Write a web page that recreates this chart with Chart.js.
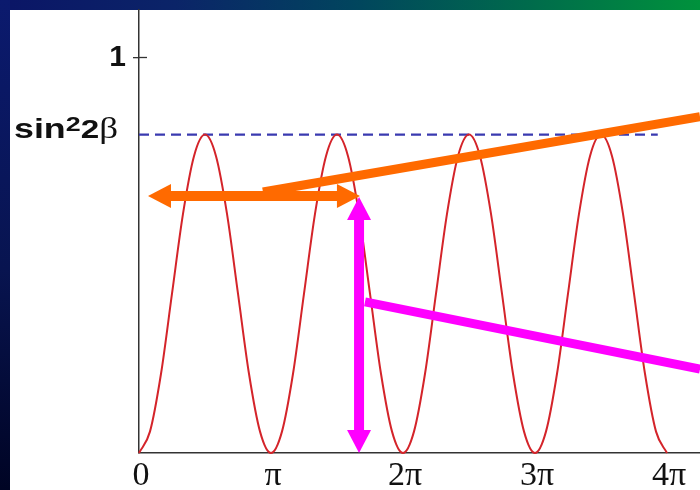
<!DOCTYPE html>
<html><head><meta charset="utf-8">
<script src="https://cdn.jsdelivr.net/npm/chart.js@4.4.1/dist/chart.umd.min.js"></script>
<style>
html,body{margin:0;padding:0;background:#fff;}
#wrap{position:relative;width:700px;height:490px;overflow:hidden;background:#fff;}
#topband{position:absolute;left:0;top:0;width:700px;height:10px;background:linear-gradient(to right,#0b1566 0%,#0b2468 25%,#01445e 50%,#006a4c 75%,#00923c 100%);}
#leftband{position:absolute;left:0;top:0;width:10px;height:490px;background:linear-gradient(to bottom,#0b1a6e 0%,#081450 55%,#000424 100%);}
canvas{position:absolute;left:0;top:0;}
</style></head>
<body><div id="wrap"><div id="topband"></div><div id="leftband"></div><canvas id="c" width="700" height="490"></canvas></div>
<script>
// phase in units of pi
const curveX = [0, 0.083, 0.167, 0.25, 0.333, 0.417, 0.5, 0.583, 0.667, 0.75, 0.833, 0.917,
  1, 1.083, 1.167, 1.25, 1.333, 1.417, 1.5, 1.583, 1.667, 1.75, 1.833, 1.917,
  2, 2.083, 2.167, 2.25, 2.333, 2.417, 2.5, 2.583, 2.667, 2.75, 2.833, 2.917,
  3, 3.083, 3.167, 3.25, 3.333, 3.417, 3.5, 3.583, 3.667, 3.75, 3.833, 3.917, 4];
const curveY = [0, 0.054, 0.201, 0.403, 0.604, 0.751, 0.805, 0.751, 0.604, 0.403, 0.201, 0.054,
  0, 0.054, 0.201, 0.403, 0.604, 0.751, 0.805, 0.751, 0.604, 0.403, 0.201, 0.054,
  0, 0.054, 0.201, 0.403, 0.604, 0.751, 0.805, 0.751, 0.604, 0.403, 0.201, 0.054,
  0, 0.054, 0.201, 0.403, 0.604, 0.751, 0.805, 0.751, 0.604, 0.403, 0.201, 0.054, 0];
const sinSq = 0.805;
const dashLineX = [0, 3.93];
const xTickValues = [0, 1, 2, 3, 4];
const xTickLabels = ['0', 'π', '2π', '3π', '4π'];
const yTickValues = [1];
const yTickLabels = ['1'];
const xRange = [0, 4.25];
const yRange = [0, 1.12];
// annotations (data units)
const orangeArrowX = [0.068, 1.674];
const orangeArrowY = 0.65;
const orangeLineX = [0.939, 4.25];
const orangeLineY = [0.66, 0.85];
const magentaArrowX = 1.667;
const magentaArrowY = [0, 0.647];
const magentaLineX = [1.712, 4.25];
const magentaLineY = [0.382, 0.212];

const ORANGE = '#ff6a00', MAGENTA = '#ff00ff';

function arrowHead(ctx, tx, ty, ang, len, half, color) {
  const bx = tx - len * Math.cos(ang), by = ty - len * Math.sin(ang);
  ctx.beginPath();
  ctx.moveTo(tx, ty);
  ctx.lineTo(bx + half * Math.sin(ang), by - half * Math.cos(ang));
  ctx.lineTo(bx - half * Math.sin(ang), by + half * Math.cos(ang));
  ctx.closePath();
  ctx.fillStyle = color;
  ctx.fill();
}
function doubleArrow(ctx, x1, y1, x2, y2, w, len, half, color) {
  const ang = Math.atan2(y2 - y1, x2 - x1);
  ctx.strokeStyle = color; ctx.lineWidth = w; ctx.lineCap = 'butt';
  ctx.beginPath();
  ctx.moveTo(x1 + len * 0.9 * Math.cos(ang), y1 + len * 0.9 * Math.sin(ang));
  ctx.lineTo(x2 - len * 0.9 * Math.cos(ang), y2 - len * 0.9 * Math.sin(ang));
  ctx.stroke();
  arrowHead(ctx, x2, y2, ang, len, half, color);
  arrowHead(ctx, x1, y1, ang + Math.PI, len, half, color);
}
function line(ctx, x1, y1, x2, y2, w, color) {
  ctx.strokeStyle = color; ctx.lineWidth = w; ctx.lineCap = 'butt';
  ctx.beginPath(); ctx.moveTo(x1, y1); ctx.lineTo(x2, y2); ctx.stroke();
}

const annotPlugin = {
  id: 'annot',
  afterDatasetsDraw(chart) {
    const ctx = chart.ctx, xs = chart.scales.x, ys = chart.scales.y;
    ctx.save();
    line(ctx, xs.getPixelForValue(orangeLineX[0]), ys.getPixelForValue(orangeLineY[0]),
      xs.getPixelForValue(orangeLineX[1]), ys.getPixelForValue(orangeLineY[1]), 9, ORANGE);
    line(ctx, xs.getPixelForValue(magentaLineX[0]), ys.getPixelForValue(magentaLineY[0]),
      xs.getPixelForValue(magentaLineX[1]), ys.getPixelForValue(magentaLineY[1]), 9, MAGENTA);
    doubleArrow(ctx, xs.getPixelForValue(orangeArrowX[0]), ys.getPixelForValue(orangeArrowY),
      xs.getPixelForValue(orangeArrowX[1]), ys.getPixelForValue(orangeArrowY), 10, 23, 12, ORANGE);
    doubleArrow(ctx, xs.getPixelForValue(magentaArrowX), ys.getPixelForValue(magentaArrowY[0]),
      xs.getPixelForValue(magentaArrowX), ys.getPixelForValue(magentaArrowY[1]), 10, 23, 12, MAGENTA);
    ctx.restore();
  },
  afterDraw(chart) {
    const ctx = chart.ctx, ys = chart.scales.y, xs = chart.scales.x;
    ctx.save();
    // right half of the "1" tick
    ctx.strokeStyle = '#333'; ctx.lineWidth = 1.3;
    yTickValues.forEach(v => {
      const p = Math.round(ys.getPixelForValue(v)) + 0.5;
      ctx.beginPath(); ctx.moveTo(xs.left, p); ctx.lineTo(xs.left + 8, p); ctx.stroke();
    });
    // sin^2 2β label
    const py = ys.getPixelForValue(sinSq);
    const parts = [
      { t: 'sin', font: 'bold 28px "Liberation Sans", Arial, sans-serif', dy: 3.5 },
      { t: '2', font: 'bold 21px "Liberation Sans", Arial, sans-serif', dy: -3.5 },
      { t: '2', font: 'bold 26px "Liberation Sans", Arial, sans-serif', dy: 3.5 },
      { t: 'β', font: '29px "Liberation Serif", "Times New Roman", serif', dy: 3.5 }
    ];
    let W = 0;
    parts.forEach(p => { ctx.font = p.font; p.w = ctx.measureText(p.t).width; W += p.w; });
    const targetW = 104;
    const sx = targetW / W;
    const x0 = xs.left - 21 - targetW;
    ctx.translate(x0, 0);
    ctx.scale(sx, 1);
    ctx.fillStyle = '#111';
    ctx.textBaseline = 'alphabetic';
    ctx.textAlign = 'left';
    let cx = 0;
    parts.forEach(p => { ctx.font = p.font; ctx.fillText(p.t, cx, py + p.dy); cx += p.w; });
    ctx.restore();
  }
};

new Chart(document.getElementById('c'), {
  type: 'line',
  data: {
    datasets: [
      {
        label: 'curve',
        data: curveX.map((x, i) => ({ x: x, y: curveY[i] })),
        borderColor: '#d4242a', borderWidth: 2, pointRadius: 0,
        cubicInterpolationMode: 'monotone', fill: false, clip: 6
      },
      {
        label: 'sin2 2beta',
        data: dashLineX.map(x => ({ x: x, y: sinSq })),
        borderColor: '#3a3ab0', borderWidth: 2.2, borderDash: [10, 6], pointRadius: 0,
        fill: false, clip: 6
      }
    ]
  },
  options: {
    responsive: false, animation: false, devicePixelRatio: 1,
    layout: { padding: { top: 10, left: 0, right: 0, bottom: 0 } },
    plugins: { legend: { display: false }, tooltip: { enabled: false } },
    scales: {
      x: {
        type: 'linear', min: xRange[0], max: xRange[1],
        afterFit(s) { s.height = 37; s.paddingLeft = 0; s.paddingRight = 0; },
        afterBuildTicks(s) { s.ticks = xTickValues.map(v => ({ value: v })); },
        ticks: {
          callback: (v) => { const i = xTickValues.indexOf(v); return i >= 0 ? xTickLabels[i] : ''; },
          font: { family: '"Liberation Serif", "Times New Roman", serif', size: 34 },
          color: '#111', padding: 3, labelOffset: 2, maxRotation: 0, autoSkip: false
        },
        grid: { display: false, drawTicks: false },
        border: { display: true, color: '#333', width: 1.5 }
      },
      y: {
        type: 'linear', min: yRange[0], max: yRange[1],
        afterFit(s) { s.width = 139; s.paddingTop = 0; s.paddingBottom = 0; },
        afterBuildTicks(s) { s.ticks = yTickValues.map(v => ({ value: v })); },
        ticks: {
          callback: (v) => { const i = yTickValues.indexOf(v); return i >= 0 ? yTickLabels[i] : ''; },
          font: { family: '"Liberation Sans", Arial, sans-serif', size: 30, weight: 'bold' },
          color: '#111', padding: 7
        },
        grid: { display: true, drawOnChartArea: false, drawTicks: true, tickLength: 6, color: '#333', lineWidth: 1.3 },
        border: { display: true, color: '#333', width: 1.5 }
      }
    }
  },
  plugins: [annotPlugin]
});
</script>
</body></html>
